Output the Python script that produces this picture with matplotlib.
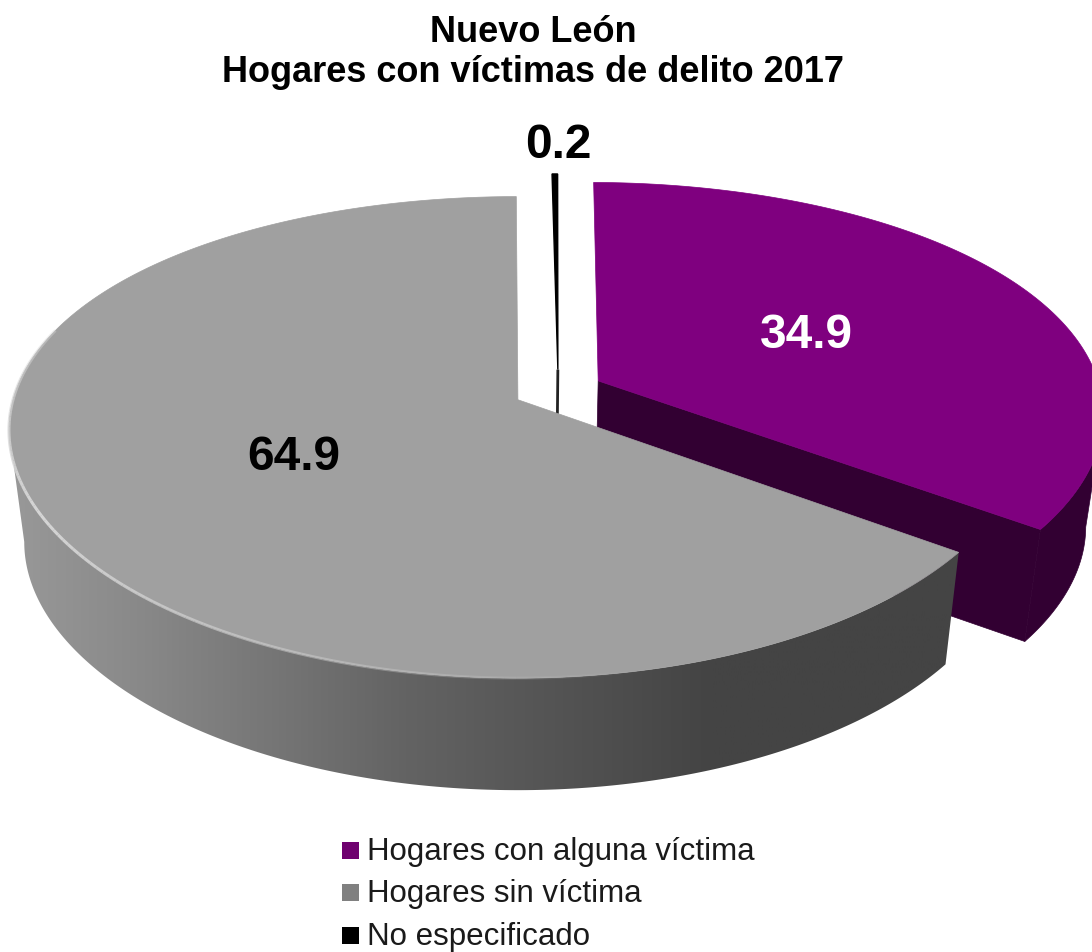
import numpy as np
import matplotlib.pyplot as plt
from matplotlib.colors import LinearSegmentedColormap
from matplotlib.collections import LineCollection
from matplotlib.patches import Polygon, Rectangle

plt.rcParams['font.family'] = ['Liberation Sans', 'DejaVu Sans']

# Data
categories = ['Hogares con alguna víctima', 'Hogares sin víctima', 'No especificado']
values = [34.9, 64.9, 0.2]
value_labels = ['34.9', '64.9', '0.2']
title_lines = ['Nuevo León', 'Hogares con víctimas de delito 2017']

# Projection of the tilted pie onto the pixel axes
X0, Y0 = 519, 400
RX, RY = 505, 235
PERSP = 6.4
DEPTH = 112
SHRINK = 0.97
START = 0.5
CENTER = np.array([0.078, 0.042])
EXPLODE = 0.09


def project(u, v, low=False):
    s = PERSP / (PERSP + v)
    x = X0 + RX * u * (1 + 0.8 * (s - 1))
    y = Y0 - RY * v * s
    if low:
        x = X0 + (x - X0) * SHRINK
        y = y + DEPTH
    return np.column_stack([x, y])


def arc(a0, a1, off, low=False, n=300):
    a = np.radians(np.linspace(a0, a1, n))
    return project(off[0] + np.sin(a), off[1] + np.cos(a), low)


def apex(off, low=False):
    return project(np.array([off[0]]), np.array([off[1]]), low)


# Wedge angles clockwise from 12 o'clock
edges = START + np.concatenate([[0], np.cumsum(values)]) * 3.6
offsets = []
for a0, a1 in zip(edges[:-1], edges[1:]):
    mid = np.radians((a0 + a1) / 2)
    offsets.append(CENTER + EXPLODE * np.array([np.sin(mid), np.cos(mid)]))

fig = plt.figure(figsize=(10.92, 9.52), dpi=100)
ax = fig.add_axes([0, 0, 1, 1])

# Purple wedge, exploded to the right
off = offsets[0]
top = arc(edges[0], edges[1], off)
low = arc(edges[0], edges[1], off, low=True)
i = np.argmax(top[:, 0])  # wall only shows from the rightmost point on
ax.add_patch(Polygon(np.vstack([top[i:], low[i:][::-1]]), fc='#320032', ec='#320032', lw=0.5))
ax.add_patch(Polygon(np.vstack([apex(off), top[-1:], low[-1:], apex(off, True)]),
                     fc='#320032', ec='#320032', lw=0.5))
ax.add_patch(Polygon(np.vstack([apex(off), top]), fc='#7f007f', ec='#7f007f', lw=0.5))

# Black sliver
off = offsets[2]
top = arc(edges[2], edges[3], off, n=10)
ax.add_patch(Polygon(np.vstack([apex(off), top]), fc='black', ec='black', lw=1.0))
ax.add_patch(Polygon(np.vstack([apex(off), apex(off, True)]), fc='black', ec='#222222', lw=2.0))

# Grey wedge: wall with horizontal gradient, then top face
off = offsets[1]
top_all = arc(edges[1], 300, off)
i = np.argmin(top_all[:, 0])  # stop the wall at the leftmost point
top_front = top_all[:i + 1]
low_front = arc(edges[1], 300, off, low=True)[:i + 1]
wall = Polygon(np.vstack([top_front, low_front[::-1]]), fc='none', ec='none', zorder=1.4)
ax.add_patch(wall)
wall_cmap = LinearSegmentedColormap.from_list(
    'wall', [(0, '#989898'), (0.12, '#8a8a8a'), (0.41, '#636363'), (0.73, '#444444'), (1, '#444444')])
img = ax.imshow(np.linspace(0, 1, 512).reshape(1, -1), cmap=wall_cmap, aspect='auto',
                extent=(14, 970, 830, 400), zorder=1.5)
img.set_clip_path(wall)

face = np.vstack([apex(off), arc(edges[1], edges[2], off)])
ax.add_patch(Polygon(face, fc='#a0a0a0', ec='#a0a0a0', lw=0.5, zorder=2))

# Light bevel along the front rim, fading at both ends
rim = arc(150, 288, off, n=120)
segs = np.stack([rim[:-1], rim[1:]], axis=1)
fade = np.clip(1 - np.abs(np.linspace(-1, 1, len(segs)) - 0.35) / 1.1, 0, 1)
rim_cols = [(0.84, 0.84, 0.84, f) for f in fade]
ax.add_collection(LineCollection(segs, colors=rim_cols, linewidths=2.2, zorder=2.1))

# Value labels
ax.text(806, 335, value_labels[0], color='white', fontsize=34.5, fontweight='bold',
        ha='center', va='center', zorder=3)
ax.text(294, 458, value_labels[1], color='black', fontsize=34.5, fontweight='bold',
        ha='center', va='center', zorder=3)
ax.text(558, 146, value_labels[2], color='black', fontsize=34.5, fontweight='bold',
        ha='center', va='center', zorder=3)

# Title
ax.text(533, 32, title_lines[0], fontsize=26, fontweight='bold', ha='center', va='center')
ax.text(533, 72, title_lines[1], fontsize=26, fontweight='bold', ha='center', va='center')

# Legend
legend_cols = ['#6f006f', '#808080', 'black']
legend_y = [850, 892, 935]
for name, col, y in zip(categories, legend_cols, legend_y):
    ax.add_patch(Rectangle((342, y - 8.5), 17, 17, fc=col, ec='none'))
    ax.text(367, y + 2, name, fontsize=22.5, color='#1a1a1a', ha='left', va='center')

ax.set_xlim(0, 1092)
ax.set_ylim(952, 0)
ax.axis('off')

fig.savefig('out.png', dpi=100)
